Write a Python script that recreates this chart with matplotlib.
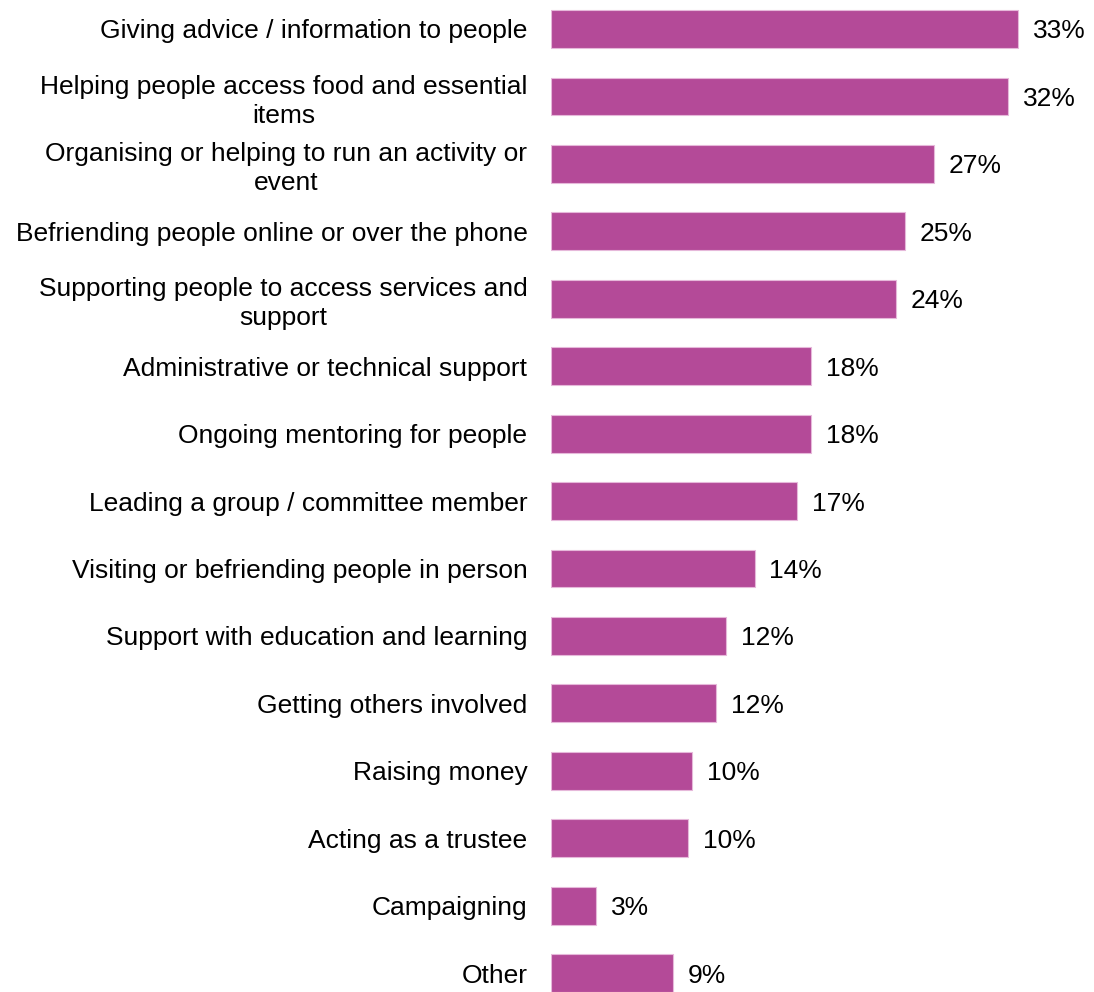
import matplotlib.pyplot as plt

plt.rcParams['font.family'] = ['Liberation Sans', 'DejaVu Sans']

# ボランティア活動の種類（上から順に表示）
categories = [
    "Giving advice / information to people",
    "Helping people access food and essential\nitems",
    "Organising or helping to run an activity or\nevent",
    "Befriending people online or over the phone",
    "Supporting people to access services and\nsupport",
    "Administrative or technical support",
    "Ongoing mentoring for people",
    "Leading a group / committee member",
    "Visiting or befriending people in person",
    "Support with education and learning",
    "Getting others involved",
    "Raising money",
    "Acting as a trustee",
    "Campaigning",
    "Other",
]
# 割合（%）
values = [33.0, 32.3, 27.1, 25.0, 24.4, 18.4, 18.4, 17.4, 14.4, 12.4,
          11.7, 10.0, 9.7, 3.2, 8.6]

bar_color = "#B44A98"

fig = plt.figure(figsize=(10.94, 9.92), dpi=100)
ax = fig.add_axes([551 / 1094, 0, 1 - 551 / 1094, 1])

y = list(range(len(categories)))
ax.barh(y, values, height=0.56, color=bar_color, edgecolor="#E6B8DA", linewidth=0.8)

# 値ラベル
for yi, v in zip(y, values):
    ax.text(v + 1.05, yi, f"{v:.0f}%", va="center_baseline", ha="left", fontsize=19)

ax.set_xlim(0, 38.4)
ax.set_ylim(14.28, -0.43)
ax.set_yticks(y)
ax.set_yticklabels(categories, fontsize=19, multialignment="center", linespacing=1.25)
ax.tick_params(axis="y", length=0, pad=17)
ax.set_xticks([])
for s in ax.spines.values():
    s.set_visible(False)

fig.savefig("out.png", dpi=100)
